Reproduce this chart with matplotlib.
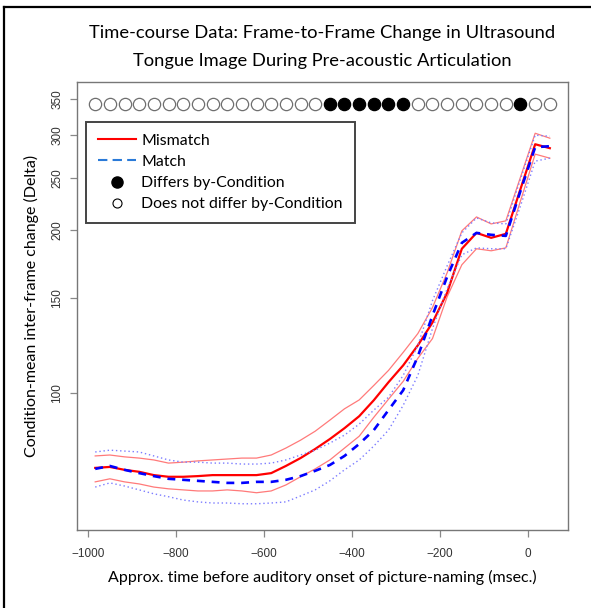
import matplotlib
matplotlib.use("Agg")

import matplotlib.pyplot as plt
from matplotlib.lines import Line2D

# -------------------------------
# Data
# -------------------------------
time_ms = [-983.3, -950.0, -916.7, -883.3, -850.0, -816.7, -783.3, -750.0,
           -716.7, -683.3, -650.0, -616.7, -583.3, -550.0, -516.7, -483.3,
           -450.0, -416.7, -383.3, -350.0, -316.7, -283.3, -250.0, -216.7,
           -183.3, -150.0, -116.7, -83.3, -50.0, -16.7, 16.7, 50.0]

mismatch_mean = [72.8, 73.1, 72.2, 71.6, 70.6, 70.1, 70.1, 70.3, 70.6, 70.6, 70.6, 70.6,
                 71.2, 73.4, 75.9, 78.9, 82.3, 86.2, 90.7, 97.1, 104.8, 112.6, 122.6, 135.1,
                 153.4, 184.9, 197.8, 193.7, 197.0, 238.4, 288.4, 283.6]
mismatch_hi = [76.6, 76.9, 76.3, 75.9, 75.3, 74.3, 74.6, 75.0, 75.3, 75.6, 75.9, 75.9,
               76.9, 79.2, 81.9, 85.1, 89.2, 93.6, 97.2, 103.4, 110.2, 119.0, 128.9, 144.0,
               167.0, 199.5, 211.7, 205.5, 208.2, 250.8, 302.2, 295.9]
mismatch_lo = [68.6, 69.5, 68.6, 68.0, 67.1, 66.6, 66.3, 66.0, 66.0, 66.3, 66.0, 65.5,
               66.0, 67.7, 70.1, 72.5, 75.3, 79.2, 83.3, 90.3, 97.5, 105.2, 116.0, 126.2,
               150.8, 172.7, 184.9, 183.3, 185.6, 226.6, 276.5, 271.8]

match_mean = [72.5, 73.4, 72.2, 71.2, 70.3, 69.5, 69.2, 68.9, 68.6, 68.3, 68.3, 68.6,
              68.6, 69.2, 70.3, 71.9, 73.7, 76.6, 80.6, 85.5, 93.1, 101.3, 117.0, 139.2,
              164.2, 189.6, 197.8, 196.2, 195.3, 236.4, 284.8, 286.0]
match_hi = [77.9, 78.5, 78.2, 77.9, 76.6, 75.3, 74.6, 74.6, 74.3, 74.3, 74.0, 74.0,
            74.3, 75.3, 76.9, 78.5, 80.9, 83.7, 87.7, 93.1, 98.3, 107.9, 122.6, 148.3,
            172.0, 197.8, 210.8, 206.4, 205.5, 248.7, 299.7, 298.4]
match_lo = [67.1, 68.3, 67.4, 66.3, 65.2, 64.4, 63.5, 63.0, 62.7, 62.7, 62.5, 62.5,
            62.7, 63.0, 64.6, 66.3, 68.9, 72.2, 75.3, 79.9, 85.5, 95.0, 107.9, 131.7,
            156.0, 180.2, 185.6, 184.9, 184.9, 221.8, 268.4, 271.8]

# 1 = differs by condition at that frame
differs = [0, 0, 0, 0, 0, 0, 0, 0, 0, 0, 0, 0, 0, 0, 0, 0,
           1, 1, 1, 1, 1, 1, 0, 0, 0, 0, 0, 0, 0, 1, 0, 0]
marker_level = 342

y_ticks = [100, 150, 200, 250, 300, 350]
x_ticks = [-1000, -800, -600, -400, -200, 0]

# -------------------------------
# Plot
# -------------------------------
text_font = "Lato"
tick_font = "Liberation Sans"

fig = plt.figure(figsize=(5.91, 6.08), dpi=100)
ax = fig.add_axes([77 / 591, 1 - 530 / 608, 491 / 591, 448 / 608])

ax.plot(time_ms, mismatch_hi, color="#ff7a7a", lw=0.9)
ax.plot(time_ms, mismatch_lo, color="#ff7a7a", lw=0.9)
ax.plot(time_ms, mismatch_mean, color="red", lw=1.6)
ax.plot(time_ms, match_hi, color="#7c7cff", lw=1.0, ls=(0, (1, 2)))
ax.plot(time_ms, match_lo, color="#7c7cff", lw=1.0, ls=(0, (1, 2)))
ax.plot(time_ms, match_mean, color="blue", lw=1.9, ls=(0, (3, 2.6)))

open_t = [t for t, d in zip(time_ms, differs) if d == 0]
fill_t = [t for t, d in zip(time_ms, differs) if d == 1]
ax.scatter(open_t, [marker_level] * len(open_t), s=78, facecolor="white",
           edgecolor="#6e6e6e", linewidth=0.9, zorder=3)
ax.scatter(fill_t, [marker_level] * len(fill_t), s=78, facecolor="black",
           edgecolor="black", linewidth=0.9, zorder=3)

ax.set_yscale("log")
ax.set_xlim(-1024.7, 91.3)
ax.set_ylim(55.9, 375.8)
ax.set_yticks(y_ticks)
ax.set_yticklabels([str(v) for v in y_ticks], rotation=90, va="center",
                   family=tick_font, fontsize=8.5, color="#333333")
ax.yaxis.set_minor_locator(matplotlib.ticker.NullLocator())
ax.set_xticks(x_ticks)
ax.set_xticklabels([str(v).replace("-", "\u2212") for v in x_ticks],
                   family=tick_font, fontsize=8.5, color="#333333")
ax.tick_params(axis="both", direction="out", length=5, width=0.9, color="#888888")
ax.tick_params(axis="x", pad=8)
ax.tick_params(axis="y", pad=5)
for sp in ax.spines.values():
    sp.set_color("#777777")
    sp.set_linewidth(1.0)

ax.set_xlabel("Approx. time before auditory onset of picture-naming (msec.)",
              family=text_font, fontsize=11.5, labelpad=7)
ax.set_ylabel("Condition-mean inter-frame change (Delta)",
              family=text_font, fontsize=11.5, labelpad=9)

fig.text(322.5 / 591, 1 - 47 / 608,
         "Time-course Data: Frame-to-Frame Change in Ultrasound\n"
         "Tongue Image During Pre-acoustic Articulation",
         ha="center", va="center", family=text_font, fontsize=13.2, linespacing=1.85)

handles = [
    Line2D([], [], color="red", lw=1.5, label="Mismatch"),
    Line2D([], [], color="#2a7ad8", lw=1.5, ls=(0, (4.5, 2.5)), label="Match"),
    Line2D([], [], ls="none", marker="o", color="black", markersize=8,
           label="Differs by-Condition"),
    Line2D([], [], ls="none", marker="o", markerfacecolor="white",
           markeredgecolor="black", markeredgewidth=0.8, markersize=6.5,
           label="Does not differ by-Condition"),
]
leg = ax.legend(handles=handles, loc="upper left", bbox_to_anchor=(0.018, 0.911),
                borderaxespad=0, frameon=True, fancybox=False, framealpha=1,
                edgecolor="#444444", borderpad=0.75, handlelength=2.4,
                handletextpad=0.35, labelspacing=0.45,
                prop={"family": text_font, "size": 11.4})
leg.get_frame().set_linewidth(1.4)

# outer frame of the original figure (left and top edges)
fig.add_artist(Line2D([4 / 591, 4 / 591], [0, 1 - 7 / 608], color="black", lw=1.6))
fig.add_artist(Line2D([4 / 591, 1], [1 - 7 / 608, 1 - 7 / 608], color="black", lw=1.6))

fig.savefig("out.png", dpi=100)
